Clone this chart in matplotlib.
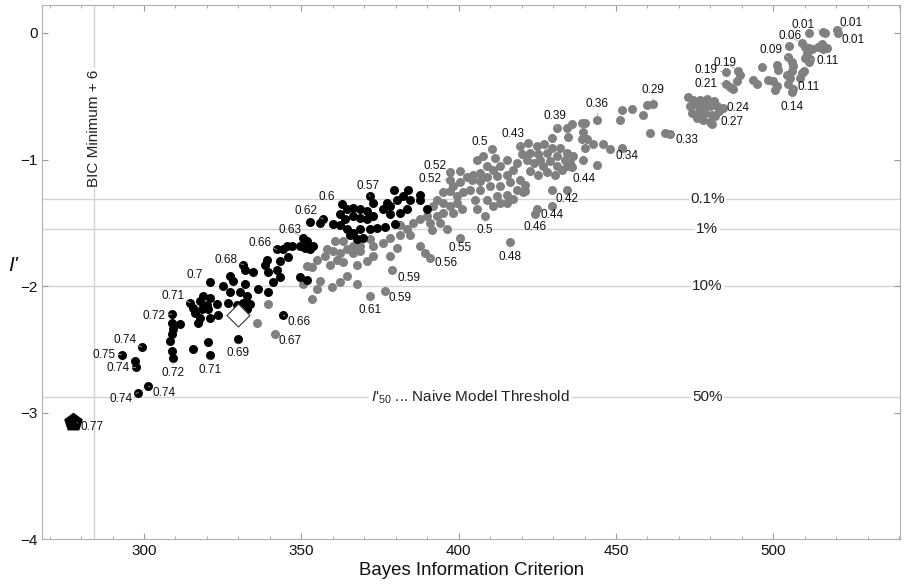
import matplotlib
matplotlib.use("Agg")
import matplotlib.pyplot as plt

plt.rcParams['font.family'] = ['Liberation Sans', 'DejaVu Sans']
plt.rcParams['mathtext.fontset'] = 'custom'
plt.rcParams['mathtext.rm'] = 'Liberation Sans'
plt.rcParams['mathtext.it'] = 'Liberation Sans:italic'

# models inside the BIC window (black) and outside (gray): (BIC, I')
black = [
    (371.8, -1.29), (372.9, -1.34), (362.8, -1.35), (364.4, -1.39), (366.5, -1.38),
    (368.7, -1.39), (370.8, -1.41), (362.3, -1.43), (363.9, -1.47), (366.5, -1.45),
    (368.7, -1.46), (370.8, -1.47), (372.9, -1.45), (357.0, -1.47), (356.0, -1.50),
    (352.8, -1.49), (360.2, -1.51), (362.3, -1.52), (364.4, -1.55), (366.5, -1.58),
    (368.7, -1.55), (371.8, -1.55), (365.5, -1.60), (367.6, -1.63), (369.7, -1.62),
    (374.0, -1.54), (350.6, -1.62), (351.7, -1.64), (351.2, -1.70), (353.8, -1.68),
    (352.8, -1.71), (349.6, -1.68), (346.9, -1.68), (345.3, -1.68), (344.3, -1.71),
    (342.2, -1.71), (345.9, -1.77), (343.2, -1.80), (339.0, -1.79), (338.5, -1.83),
    (339.5, -1.89), (342.2, -1.87), (343.2, -1.93), (341.1, -1.97), (334.8, -1.89),
    (331.6, -1.83), (332.1, -1.87), (327.3, -1.92), (328.4, -1.96), (325.2, -2.00),
    (327.3, -2.05), (330.5, -2.05), (332.1, -1.98), (332.6, -2.08), (331.6, -2.13),
    (333.7, -2.14), (336.3, -2.02), (339.5, -2.05), (321.0, -1.97), (318.9, -2.08),
    (317.8, -2.12), (314.6, -2.13), (315.7, -2.17), (316.2, -2.21), (318.3, -2.18),
    (319.9, -2.15), (321.0, -2.09), (323.1, -2.14), (320.4, -2.18), (317.8, -2.25),
    (321.0, -2.25), (323.6, -2.23), (317.3, -2.29), (326.8, -2.13), (329.5, -2.15),
    (332.6, -2.18), (349.6, -1.93), (351.7, -1.95), (344.3, -2.23), (330.0, -2.42),
    (320.4, -2.44), (321.0, -2.54), (315.7, -2.50), (308.8, -2.22), (308.8, -2.29),
    (311.4, -2.30), (309.3, -2.34), (308.8, -2.38), (308.3, -2.43), (308.8, -2.51),
    (309.3, -2.57), (299.3, -2.48), (301.4, -2.79), (292.9, -2.54), (297.1, -2.59),
    (297.4, -2.64), (298.2, -2.84), (379.3, -1.24), (380.3, -1.32), (377.1, -1.34),
    (378.2, -1.37), (376.1, -1.39), (381.4, -1.42), (378.2, -1.43), (379.8, -1.51),
    (376.6, -1.53), (384.0, -1.24), (382.4, -1.29), (384.6, -1.32), (383.5, -1.39),
    (389.8, -1.39), (387.7, -1.28), (387.7, -1.32),
]

gray = [
    (371.8, -1.63), (372.9, -1.68), (368.7, -1.68), (366.5, -1.68), (363.4, -1.64),
    (360.7, -1.64), (358.1, -1.71), (360.2, -1.72), (362.3, -1.74), (364.4, -1.71),
    (366.5, -1.74), (368.7, -1.72), (372.9, -1.76), (370.8, -1.80), (367.6, -1.83),
    (363.4, -1.81), (361.2, -1.79), (359.1, -1.83), (357.5, -1.76), (354.9, -1.79),
    (353.3, -1.85), (351.7, -1.84), (364.4, -1.92), (362.3, -1.97), (359.7, -2.01),
    (356.0, -1.96), (354.9, -2.02), (353.3, -2.10), (350.6, -1.98), (367.6, -1.98),
    (371.8, -2.08), (339.5, -2.14), (335.8, -2.29), (341.6, -2.38),
    (381.4, -1.60), (378.7, -1.87), (376.6, -2.04), (378.2, -1.76), (380.3, -1.70),
    (378.2, -1.62), (376.1, -1.66),
    (397.3, -1.10), (400.4, -1.09), (397.3, -1.16), (398.3, -1.21), (400.4, -1.18),
    (402.6, -1.14), (404.7, -1.12), (395.1, -1.26), (397.3, -1.25), (399.4, -1.29),
    (401.5, -1.26), (393.0, -1.32), (395.1, -1.34), (397.3, -1.37), (399.4, -1.34),
    (392.0, -1.37), (389.8, -1.45), (393.0, -1.45), (395.1, -1.42), (398.3, -1.42),
    (401.0, -1.39), (390.9, -1.50), (394.1, -1.50), (396.2, -1.55), (391.4, -1.56),
    (387.7, -1.47), (385.6, -1.50), (383.5, -1.55), (381.4, -1.52), (384.5, -1.60),
    (400.4, -1.62), (387.7, -1.68), (389.3, -1.74), (390.9, -1.78),
    (405.7, -1.00), (407.9, -0.97), (410.5, -0.92), (411.6, -0.99), (415.3, -1.00),
    (408.9, -1.05), (411.0, -1.08), (413.2, -1.05), (406.8, -1.11), (404.2, -1.16),
    (406.8, -1.17), (408.9, -1.14), (412.1, -1.13), (415.3, -1.12), (417.4, -1.08),
    (403.6, -1.24), (406.8, -1.24), (410.0, -1.21), (413.2, -1.21), (416.3, -1.18),
    (419.5, -1.16), (405.2, -1.32), (408.9, -1.32), (412.1, -1.29), (415.3, -1.28),
    (418.5, -1.24), (421.1, -1.20), (420.6, -1.26), (405.7, -1.39), (408.4, -1.45),
    (411.0, -1.37), (413.2, -1.34), (415.3, -1.34), (417.4, -1.31),
    (419.5, -0.89), (422.2, -0.87), (424.8, -0.89), (427.0, -0.88), (429.6, -0.91),
    (432.2, -0.91), (434.3, -0.95), (436.5, -0.97), (420.0, -0.96), (422.7, -0.95),
    (425.3, -0.96), (428.0, -0.95), (431.2, -0.97), (433.8, -1.00), (421.6, -1.00),
    (423.8, -1.03), (425.9, -1.00), (429.1, -1.01), (431.2, -1.05), (434.3, -1.05),
    (418.5, -1.03), (422.7, -1.09), (425.3, -1.12), (428.0, -1.10), (430.6, -1.12),
    (432.8, -1.08), (435.4, -1.03), (426.9, -1.05), (429.6, -0.83), (431.2, -0.75),
    (434.3, -0.75), (435.9, -0.72), (434.9, -0.82), (439.1, -0.71), (440.2, -0.71),
    (444.1, -0.69), (439.4, -0.78), (439.1, -0.84), (440.7, -0.84), (442.8, -0.88),
    (446.0, -0.88), (448.1, -0.92), (440.2, -0.91), (439.6, -1.00), (443.9, -1.04),
    (451.8, -0.91), (451.3, -0.69), (451.8, -0.61), (455.0, -0.60), (435.9, -1.06),
    (429.6, -1.24), (434.3, -1.24), (424.8, -1.39), (424.3, -1.43), (429.6, -1.37),
    (416.3, -1.65), (421.1, -1.25),
    (459.8, -0.57), (461.9, -0.56), (458.7, -0.65), (460.8, -0.79), (465.6, -0.79),
    (467.2, -0.80), (473.0, -0.51), (474.6, -0.53), (476.7, -0.53), (478.8, -0.52),
    (481.0, -0.54), (473.6, -0.58), (475.7, -0.57), (477.8, -0.58), (479.9, -0.58),
    (482.0, -0.58), (474.1, -0.63), (476.2, -0.65), (478.3, -0.63), (480.4, -0.65),
    (482.6, -0.62), (475.7, -0.67), (477.8, -0.69), (479.9, -0.70), (476.7, -0.62),
    (481.5, -0.66), (484.1, -0.59), (480.4, -0.72), (488.9, -0.30), (485.0, -0.31),
    (485.0, -0.40), (489.4, -0.33), (488.4, -0.38), (486.3, -0.43), (487.3, -0.44),
    (493.7, -0.37), (494.7, -0.40), (496.5, -0.27), (501.1, -0.25), (501.6, -0.29),
    (498.4, -0.37), (500.0, -0.38), (501.1, -0.42), (500.6, -0.45), (504.3, -0.33),
    (505.9, -0.30), (505.3, -0.36), (504.8, -0.40), (506.4, -0.44), (505.9, -0.47),
    (508.5, -0.36), (509.0, -0.32), (509.6, -0.30), (506.4, -0.26), (505.9, -0.23),
    (504.8, -0.19), (505.1, -0.10), (509.0, -0.08), (510.1, -0.11), (511.2, -0.12),
    (512.2, -0.13), (510.6, -0.16), (510.1, -0.20), (511.2, -0.23), (511.7, -0.21),
    (514.3, -0.11), (515.4, -0.09), (517.0, -0.12), (515.9, -0.13), (511.4, 0.00),
    (515.9, 0.01), (516.5, 0.00), (520.4, 0.02), (520.7, 0.00),
]

best = (277.5, -3.07)      # pentagon, lowest BIC
naive = (330.0, -2.23)     # open diamond
bic_cut = 284.1            # BIC minimum + 6
levels = [-1.315, -1.55, -2.0, -2.876]
level_names = ["0.1%", "1%", "10%", "50%"]

labels = [
    (277.5, -3.07, "0.77"), (292.9, -2.54, "0.75"), (299.3, -2.48, "0.74"),
    (297.4, -2.64, "0.74"), (298.2, -2.84, "0.74"), (301.4, -2.79, "0.74"),
    (308.8, -2.22, "0.72"), (309.3, -2.57, "0.72"), (321.0, -2.54, "0.71"),
    (330.0, -2.42, "0.69"), (344.3, -2.23, "0.66"), (341.6, -2.38, "0.67"),
    (314.6, -2.13, "0.71"), (321.0, -1.97, "0.7"), (331.6, -1.83, "0.68"),
    (342.2, -1.71, "0.66"), (350.6, -1.62, "0.63"), (357.0, -1.47, "0.62"),
    (362.8, -1.35, "0.6"), (371.8, -1.29, "0.57"), (371.8, -2.08, "0.61"),
    (378.7, -1.87, "0.59"), (376.6, -2.04, "0.59"), (390.9, -1.78, "0.56"),
    (400.4, -1.62, "0.55"), (397.3, -1.10, "0.52"), (397.3, -1.16, "0.52"),
    (410.5, -0.92, "0.5"), (408.4, -1.45, "0.5"), (419.5, -0.89, "0.43"),
    (431.2, -0.75, "0.39"), (444.1, -0.69, "0.36"), (451.8, -0.91, "0.34"),
    (435.9, -1.06, "0.44"), (434.3, -1.24, "0.42"), (429.6, -1.37, "0.44"),
    (424.3, -1.43, "0.46"), (416.3, -1.65, "0.48"), (461.9, -0.56, "0.29"),
    (467.2, -0.80, "0.33"), (484.1, -0.59, "0.24"), (480.4, -0.72, "0.27"),
    (488.9, -0.30, "0.19"), (485.0, -0.31, "0.19"), (485.0, -0.40, "0.21"),
    (505.9, -0.47, "0.14"), (506.4, -0.44, "0.11"), (511.7, -0.21, "0.11"),
    (504.8, -0.19, "0.09"), (509.0, -0.08, "0.06"), (515.9, 0.01, "0.01"),
    (520.4, 0.02, "0.01"), (520.7, 0.00, "0.01"),
]
# label placement in pixels: (right, down)
label_offsets = [
    (19, 5), (-18, 0), (-17, -7), (-18, 1), (-17, 6), (16, 7),
    (-18, 2), (0, 15), (0, 15), (0, 14), (16, 7), (15, 7),
    (-17, -7), (-15, -7), (-17, -5), (-17, -6), (-13, -8), (-17, -8),
    (-15, -7), (-2, -10), (0, 14), (17, 8), (15, 7), (16, 5),
    (0, 10), (-15, -6), (-20, -1), (-12, -7), (0, 14), (-7, -12),
    (-2, -12), (0, -16), (5, 8), (12, 12), (0, 9), (0, 9),
    (0, 13), (0, 15), (0, -14), (17, 6), (15, 0), (20, -2),
    (-13, -8), (-20, -2), (-20, 0), (0, 15), (15, -2), (18, 2),
    (-17, -7), (-12, -7), (-20, -7), (14, -7), (15, 7),
]

fig = plt.figure(figsize=(9.08, 5.85), dpi=100)
ax = fig.add_axes([0.0463, 0.0778, 0.945, 0.9137])

grid_col = "#d4d4d4"
for lv, name in zip(levels, level_names):
    ax.axhline(lv, color=grid_col, lw=1, zorder=0)
    ax.text(479.0, lv, name, ha="center", va="center", fontsize=11, color="#222222",
            bbox=dict(facecolor="white", edgecolor="none", pad=1), zorder=1)
ax.axvline(bic_cut, color=grid_col, lw=1, zorder=0)
ax.text(bic_cut, -0.75, "BIC Minimum + 6", rotation=90, ha="center", va="center",
        fontsize=11, color="#222222",
        bbox=dict(facecolor="white", edgecolor="none", pad=1), zorder=1)
ax.text(403.6, levels[3], r"$I$'$_{50}$ ... Naive Model Threshold", ha="center",
        va="center", fontsize=11, color="#222222",
        bbox=dict(facecolor="white", edgecolor="none", pad=1), zorder=1)

gx, gy = zip(*gray)
bx, by = zip(*black)
ax.scatter(gx, gy, s=42, color="#808080", linewidths=0, zorder=2)
ax.scatter(bx, by, s=42, color="black", linewidths=0, zorder=3)
ax.scatter([best[0]], [best[1]], marker="p", s=200, color="black", linewidths=0, zorder=4)
ax.scatter([naive[0]], [naive[1]], marker="D", s=137, facecolor="white",
           edgecolor="#333333", linewidths=0.8, zorder=4)

for (lx, ly, txt), (dx, dy) in zip(labels, label_offsets):
    ax.annotate(txt, (lx, ly), xytext=(dx, -dy), textcoords="offset pixels",
                ha="center", va="center", fontsize=8.5, color="#111111", zorder=5,
                arrowprops=dict(arrowstyle="-", color="#aaaaaa", lw=0.6,
                                shrinkA=0, shrinkB=3))

ax.set_xlim(267.6, 540.3)
ax.set_ylim(-4.0, 0.22)
ax.set_xticks([300, 350, 400, 450, 500])
ax.set_xticks(range(270, 541, 10), minor=True)
ax.set_yticks([0, -1, -2, -3, -4])
ax.tick_params(which="both", direction="in", top=True, right=True, color="#999999",
               labelsize=11, labelcolor="#111111", pad=3)
ax.tick_params(which="major", length=4, width=0.8)
ax.tick_params(which="minor", length=2, width=0.6)
for sp in ax.spines.values():
    sp.set_color("#b0b0b0")
    sp.set_linewidth(0.8)

ax.set_xlabel("Bayes Information Criterion", fontsize=13.4, color="#111111", labelpad=3)
ax.set_ylabel("I'", fontsize=15, style="italic", rotation=0, color="#111111", va="center")
ax.yaxis.set_label_coords(-0.034, 0.5135)

fig.savefig("out.png", dpi=100)
